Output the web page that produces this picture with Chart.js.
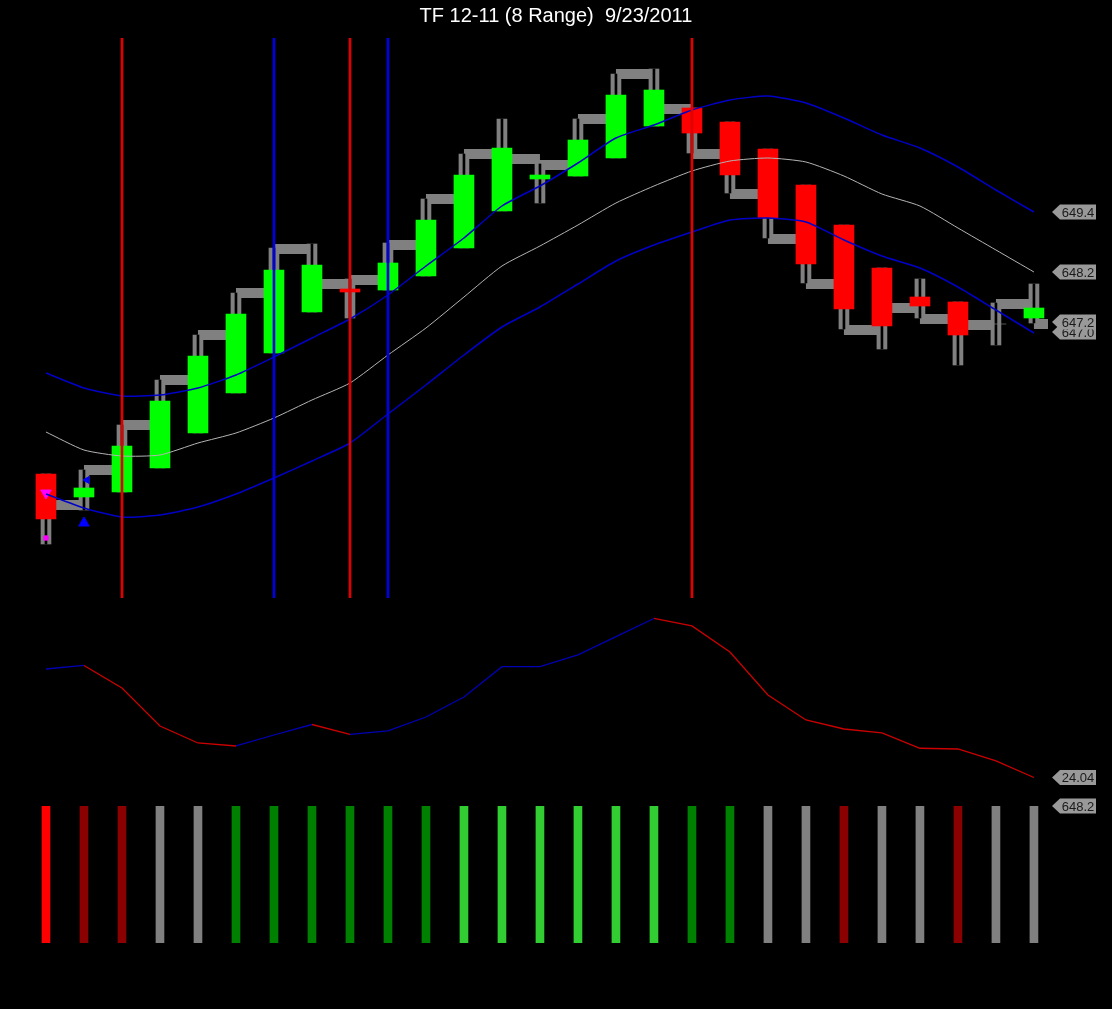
<!DOCTYPE html>
<html>
<head>
<meta charset="utf-8">
<title>TF 12-11 (8 Range) 9/23/2011</title>
<script src="https://cdn.jsdelivr.net/npm/chart.js@4/dist/chart.umd.min.js"></script>
<style>
  html, body { margin: 0; padding: 0; background: #000; }
  #wrap { position: relative; width: 1112px; height: 1009px; overflow: hidden; background: #000; }
  canvas { position: absolute; left: 0; }
  #priceChart { top: 0; }
  #oscChart { top: 600px; }
  #stateChart { top: 795px; }
</style>
</head>
<body>
<div id="wrap">
  <canvas id="priceChart" width="1112" height="600"></canvas>
  <canvas id="oscChart" width="1112" height="195"></canvas>
  <canvas id="stateChart" width="1112" height="214"></canvas>
</div>
<script>
// bar numbers (range bars, left to right)
const bars = [0, 1, 2, 3, 4, 5, 6, 7, 8, 9, 10, 11, 12, 13, 14, 15, 16, 17, 18, 19, 20, 21, 22, 23, 24, 25, 26];

const opens  = [644.16, 643.70, 643.80, 644.28, 644.98, 645.78, 646.58, 647.40, 647.86, 647.84, 648.12, 648.68, 649.42, 650.06, 650.12, 650.48, 651.12, 651.48, 651.20, 650.66, 649.94, 649.14, 648.28, 647.70, 647.60, 647.16, 647.28];
const closes = [643.26, 643.88, 644.72, 645.62, 646.52, 647.36, 648.24, 648.34, 647.80, 648.38, 649.24, 650.14, 650.68, 650.14, 650.84, 651.74, 651.84, 650.98, 650.14, 649.28, 648.36, 647.46, 647.12, 647.52, 646.94, 647.16, 647.48];
const highs  = [644.16, 644.24, 645.14, 646.04, 646.94, 647.78, 648.68, 648.76, 648.06, 648.78, 649.66, 650.56, 651.26, 650.36, 651.26, 652.16, 652.26, 651.48, 651.20, 650.66, 649.94, 649.14, 648.28, 648.06, 647.60, 647.58, 647.96];
const lows   = [642.76, 643.44, 643.80, 644.28, 644.98, 645.78, 646.58, 647.40, 647.28, 647.84, 648.12, 648.68, 649.42, 649.58, 650.12, 650.48, 651.12, 650.58, 649.78, 648.88, 647.98, 647.06, 646.66, 647.28, 646.34, 646.74, 647.18];
// gray step line to the next bar
const steps  = [643.54, 644.24, 645.14, 646.04, 646.94, 647.78, 648.66, 647.96, 648.04, 648.74, 649.66, 650.56, 650.46, 650.34, 651.26, 652.16, 651.46, 650.56, 649.76, 648.86, 647.96, 647.04, 647.48, 647.26, 647.14, 647.56, 647.16];

// bands
const upperBand = [646.18, 645.88, 645.72, 645.74, 645.88, 646.14, 646.50, 646.88, 647.26, 647.74, 648.32, 648.88, 649.52, 649.92, 650.38, 650.88, 651.14, 651.44, 651.64, 651.72, 651.58, 651.28, 650.94, 650.68, 650.30, 649.84, 649.40];
const midBand   = [645.00, 644.64, 644.52, 644.54, 644.78, 644.98, 645.28, 645.64, 645.98, 646.54, 647.08, 647.70, 648.32, 648.72, 649.14, 649.58, 649.92, 650.22, 650.42, 650.48, 650.40, 650.12, 649.76, 649.52, 649.08, 648.64, 648.20];
const lowerBand = [643.76, 643.48, 643.30, 643.34, 643.50, 643.76, 644.08, 644.42, 644.78, 645.36, 645.94, 646.54, 647.10, 647.50, 647.96, 648.42, 648.74, 649.00, 649.24, 649.28, 649.20, 648.84, 648.52, 648.28, 647.90, 647.44, 646.98];

// vertical signal lines
const eventBars   = [2, 6, 8, 9, 17];
const eventColors = ['#e00000', '#0000e0', '#e00000', '#0000e0', '#e00000'];

// small arrows on the first bars
const markerX      = [0, 0, 1, 1.08];
const markerY      = [643.78, 642.88, 643.18, 644.04];
const markerColors = ['#ff00ff', '#ff00ff', '#0000ff', '#0000ff'];
const markerRot    = [180, 0, 0, -90];
const markerStyle  = ['triangle', 'rect', 'triangle', 'triangle'];

// oscillator
const osc = [42.12, 42.71, 38.96, 32.62, 29.79, 29.29, 31.12, 32.87, 31.21, 31.79, 34.12, 37.46, 42.51, 42.51, 44.46, 47.51, 50.54, 49.29, 44.96, 37.79, 33.62, 32.12, 31.46, 28.91, 28.79, 26.79, 24.04];

// state histogram
const stateValues = [1, 1, 1, 1, 1, 1, 1, 1, 1, 1, 1, 1, 1, 1, 1, 1, 1, 1, 1, 1, 1, 1, 1, 1, 1, 1, 1];
const stateColors = ['#ff0000', '#8b0000', '#8b0000', '#808080', '#808080', '#008000', '#008000', '#008000', '#008000', '#008000', '#008000',
                     '#32cd32', '#32cd32', '#32cd32', '#32cd32', '#32cd32', '#32cd32', '#008000', '#008000', '#808080', '#808080',
                     '#8b0000', '#808080', '#808080', '#8b0000', '#808080', '#808080'];

// right side value tags
const priceTags = [649.4, 648.2, 647.0, 647.2];
const oscTag = 24.04;
const stateTag = 648.2;

const xMin = -1.21, xMax = 26.37;
const priceMin = 641.68, priceMax = 652.88;
const FONT = '"Liberation Sans", Arial, sans-serif';

// gray arrow-shaped labels at the right edge
const tagPlugin = {
    id: 'tags',
    afterDraw(chart, args, opts) {
        const ctx = chart.ctx;
        const ys = chart.scales.y;
        const x0 = chart.chartArea.right + 4;
        (opts.items || []).forEach(t => {
            const py = ys.getPixelForValue(t.value);
            ctx.save();
            ctx.fillStyle = '#999999';
            ctx.beginPath();
            ctx.moveTo(x0, py);
            ctx.lineTo(x0 + 8, py - 7.5);
            ctx.lineTo(x0 + 44, py - 7.5);
            ctx.lineTo(x0 + 44, py + 7.5);
            ctx.lineTo(x0 + 8, py + 7.5);
            ctx.closePath();
            ctx.fill();
            ctx.fillStyle = '#1a1a1a';
            ctx.font = '13px ' + FONT;
            ctx.textAlign = 'center';
            ctx.textBaseline = 'middle';
            ctx.fillText(t.label, x0 + 26, py + 1);
            ctx.restore();
        });
    }
};

function xAxis() {
    return { type: 'linear', min: xMin, max: xMax, offset: false, display: false };
}

function rightAxis(min, max) {
    return {
        type: 'linear', position: 'right', min: min, max: max,
        grid: { display: false }, border: { display: false },
        ticks: { display: false },
        afterFit: s => { s.width = 64; }
    };
}

function candleColor(i) {
    if (closes[i] > opens[i]) return '#00ff00';
    if (closes[i] < opens[i]) return '#ff0000';
    return '#808080';
}

// step line points, broken between bars
const stepPoints = [];
bars.forEach(i => {
    stepPoints.push({ x: i, y: steps[i] });
    stepPoints.push({ x: i + 1, y: steps[i] });
    stepPoints.push({ x: i + 1, y: null });
});

new Chart(document.getElementById('priceChart'), {
    type: 'bar',
    data: {
        datasets: [
            {
                type: 'bar', label: 'signals',
                data: eventBars.map(i => ({ x: i, y: [priceMin, priceMax] })),
                backgroundColor: eventColors, barThickness: 2, grouped: false, order: 0
            },
            {
                type: 'line', label: 'upper',
                data: bars.map(i => ({ x: i, y: upperBand[i] })),
                borderColor: '#0000c8', borderWidth: 1.5, pointRadius: 0, tension: 0.2, order: 1
            },
            {
                type: 'line', label: 'mid',
                data: bars.map(i => ({ x: i, y: midBand[i] })),
                borderColor: '#b4b4b4', borderWidth: 1, pointRadius: 0, tension: 0.2, order: 1
            },
            {
                type: 'line', label: 'lower',
                data: bars.map(i => ({ x: i, y: lowerBand[i] })),
                borderColor: '#0000c8', borderWidth: 1.5, pointRadius: 0, tension: 0.2, order: 1
            },
            {
                type: 'line', label: 'arrows', showLine: false,
                data: markerX.map((x, k) => ({ x: x, y: markerY[k] })),
                pointStyle: markerStyle, pointRotation: markerRot,
                pointBackgroundColor: markerColors, pointBorderColor: markerColors,
                pointRadius: [6, 3, 6, 4], order: 2
            },
            {
                type: 'bar', label: 'body',
                data: bars.map(i => ({ x: i, y: [opens[i], closes[i]] })),
                backgroundColor: bars.map(candleColor), barThickness: 20, grouped: false, order: 3
            },
            {
                type: 'bar', label: 'wick core',
                data: bars.map(i => ({ x: i, y: [lows[i], highs[i]] })),
                backgroundColor: '#000000', barThickness: 2, grouped: false, order: 4
            },
            {
                type: 'line', label: 'step',
                data: stepPoints, spanGaps: false,
                borderColor: '#808080', borderWidth: 10, borderCapStyle: 'butt', pointRadius: 0, order: 5
            },
            {
                type: 'bar', label: 'wick',
                data: bars.map(i => ({ x: i, y: [lows[i], highs[i]] })),
                backgroundColor: '#808080', barThickness: 10, grouped: false, order: 6
            }
        ]
    },
    options: {
        responsive: false,
        animation: false,
        events: [],
        layout: { autoPadding: false, padding: { left: 0, right: 0, top: 0, bottom: 2 } },
        scales: { x: xAxis(), y: rightAxis(priceMin, priceMax) },
        plugins: {
            legend: { display: false },
            tooltip: { enabled: false },
            title: {
                display: true,
                text: 'TF 12-11 (8 Range)  9/23/2011',
                color: '#ffffff',
                font: { family: FONT, size: 20, weight: 'normal', lineHeight: 1.2 },
                padding: { top: 4, bottom: 10 }
            },
            tags: { items: priceTags.map(v => ({ value: v, label: v.toFixed(1) })) }
        }
    },
    plugins: [tagPlugin]
});

new Chart(document.getElementById('oscChart'), {
    type: 'line',
    data: {
        datasets: [{
            label: 'osc',
            data: bars.map(i => ({ x: i, y: osc[i] })),
            borderWidth: 1.3, pointRadius: 0, tension: 0,
            borderColor: '#cc0000',
            segment: {
                borderColor: c => c.p1.parsed.y >= c.p0.parsed.y ? '#0000b4' : '#cc0000'
            }
        }]
    },
    options: {
        responsive: false,
        animation: false,
        events: [],
        layout: { autoPadding: false, padding: 0 },
        scales: { x: xAxis(), y: rightAxis(21.12, 53.62) },
        plugins: {
            legend: { display: false },
            tooltip: { enabled: false },
            tags: { items: [{ value: oscTag, label: oscTag.toFixed(2) }] }
        }
    },
    plugins: [tagPlugin]
});

new Chart(document.getElementById('stateChart'), {
    type: 'bar',
    data: {
        datasets: [{
            label: 'state',
            data: bars.map(i => ({ x: i, y: stateValues[i] })),
            backgroundColor: stateColors, barThickness: 8, grouped: false
        }]
    },
    options: {
        responsive: false,
        animation: false,
        events: [],
        layout: { autoPadding: false, padding: { top: 11, bottom: 66, left: 0, right: 0 } },
        scales: { x: xAxis(), y: rightAxis(0, 1) },
        plugins: {
            legend: { display: false },
            tooltip: { enabled: false },
            tags: { items: [{ value: 1, label: stateTag.toFixed(1) }] }
        }
    },
    plugins: [tagPlugin]
});
</script>
</body>
</html>
